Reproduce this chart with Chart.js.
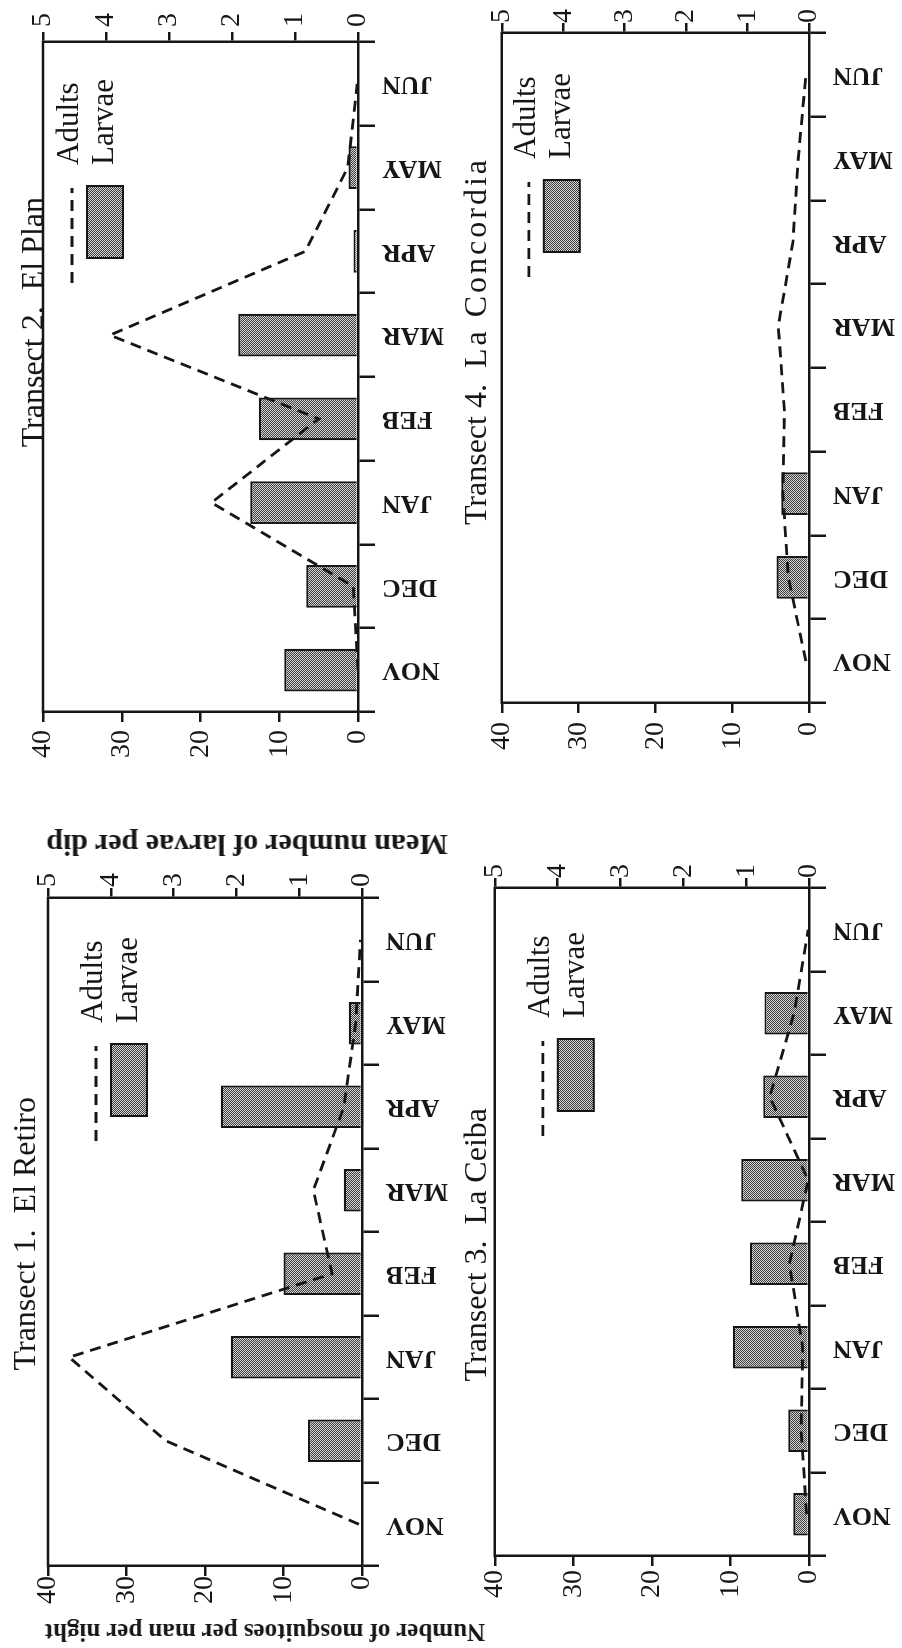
<!DOCTYPE html>
<html lang="en">
<head>
<meta charset="UTF-8">
<meta name="viewport" content="width=device-width, initial-scale=1.0">
<title>Adults and larvae by transect</title>
<script src="https://cdn.jsdelivr.net/npm/chart.js"></script>
<style>
    body {
        margin: 0;
        background: #fff;
        overflow: hidden;
    }

    /* the figure is laid out landscape and turned a quarter turn to fit the page */
    #page {
        position: absolute;
        left: 0;
        top: 0;
        width: 1648px;
        height: 902px;
        transform-origin: 0 0;
        transform: translate(0, 1648px) rotate(-90deg);
        font-family: "Liberation Serif", "Times New Roman", serif;
        color: #161616;
    }

    canvas {
        position: absolute;
    }

    .title {
        position: absolute;
        width: 600px;
        text-align: right;
        white-space: pre;
        font-size: 32px;
        line-height: 32px;
    }

    .wide {
        letter-spacing: 3px;
    }

    .axis-title {
        position: absolute;
        white-space: nowrap;
        font-weight: bold;
        line-height: 30px;
        transform: translate(-50%, -50%) rotate(-90deg);
    }
</style>
</head>
<body>
<div id="page">
    <canvas id="c1"></canvas>
    <canvas id="c2"></canvas>
    <canvas id="c3"></canvas>
    <canvas id="c4"></canvas>

    <div class="title" style="left:-49px; top:8px">Transect 1.  El Retiro</div>
    <div class="title" style="left:851px; top:16px">Transect 2.  El Plan</div>
    <div class="title" style="left:-60px; top:459px">Transect 3.  La Ceiba</div>
    <div class="title" style="left:891px; top:459px">Transect 4.  <span class="wide">La Concordia</span></div>

    <div class="axis-title" style="left:16px; top:265px; font-size:25px">Number of mosquitoes per man per night</div>
    <div class="axis-title" style="left:803px; top:247px; font-size:30px">Mean number of larvae per dip</div>
</div>

<script>
    const months = ['NOV', 'DEC', 'JAN', 'FEB', 'MAR', 'APR', 'MAY', 'JUN'];

    // Transect 1. El Retiro
    const retiroAdults = [0.4, 25.0, 37.3, 3.8, 6.2, 2.3, 0.8, 0.2];
    const retiroLarvae = [0.02, 0.86, 2.09, 1.25, 0.29, 2.25, 0.21, 0];

    // Transect 2. El Plan
    const planAdults = [0, 0.6, 18.6, 5.0, 31.5, 6.7, 1.3, 0.1];
    const planLarvae = [1.17, 0.82, 1.71, 1.57, 1.90, 0.07, 0.15, 0];

    // Transect 3. La Ceiba
    const ceibaAdults = [0.3, 1.0, 0.8, 2.5, 0.1, 5.0, 1.9, 0.1];
    const ceibaLarvae = [0.25, 0.33, 1.21, 0.94, 1.08, 0.73, 0.71, 0];

    // Transect 4. La Concordia
    const concordiaAdults = [0.4, 2.7, 3.4, 3.2, 4.0, 2.1, 1.4, 0.4];
    const concordiaLarvae = [0, 0.53, 0.45, 0, 0, 0, 0, 0];

    const adultTicks = { min: 0, max: 40, step: 10 };
    const larvaTicks = { min: 0, max: 5, step: 1 };

    const INK = '#161616';
    const SERIF = '"Liberation Serif", "Times New Roman", serif';

    // fine two-tone dither used for the larvae bars
    function makeShade() {
        const tile = document.createElement('canvas');
        tile.width = 2;
        tile.height = 2;
        const g = tile.getContext('2d');
        g.fillStyle = '#d2d2d2';
        g.fillRect(0, 0, 2, 2);
        g.fillStyle = '#404040';
        g.fillRect(0, 0, 1, 1);
        g.fillRect(1, 1, 1, 1);
        return g.createPattern(tile, 'repeat');
    }
    const shade = makeShade();

    // closes the plot box along the top edge
    const frameTop = {
        id: 'frameTop',
        afterDraw(chart) {
            const { ctx, chartArea: a } = chart;
            ctx.save();
            ctx.strokeStyle = INK;
            ctx.lineWidth = 2.5;
            ctx.beginPath();
            ctx.moveTo(a.left - 1.25, a.top);
            ctx.lineTo(a.right + 1.25, a.top);
            ctx.stroke();
            ctx.restore();
        }
    };

    // small key inside the plot: dashed sample for the line, shaded swatch for the bars
    const panelKey = {
        id: 'panelKey',
        afterDraw(chart, args, opts) {
            const { ctx, chartArea: a } = chart;
            const [line, bars] = chart.data.datasets;
            const x0 = a.left + opts.x;
            const y0 = a.top + opts.y;
            ctx.save();
            ctx.strokeStyle = line.borderColor;
            ctx.lineWidth = line.borderWidth;
            ctx.setLineDash(line.borderDash);
            ctx.beginPath();
            ctx.moveTo(x0, y0 + 2);
            ctx.lineTo(x0 + 95, y0 + 2);
            ctx.stroke();

            ctx.setLineDash([]);
            ctx.fillStyle = bars.backgroundColor;
            ctx.fillRect(x0 + 25, y0 + 17, 72, 36);
            ctx.strokeStyle = bars.borderColor;
            ctx.lineWidth = 2;
            ctx.strokeRect(x0 + 25, y0 + 17, 72, 36);

            ctx.fillStyle = INK;
            ctx.font = '31px ' + SERIF;
            ctx.textBaseline = 'middle';
            ctx.fillText(line.label, x0 + 118, y0);
            ctx.fillText(bars.label, x0 + 118, y0 + 35);
            ctx.restore();
        }
    };

    function valueAxis(range, position, width, pad) {
        return {
            position: position,
            min: range.min,
            max: range.max,
            afterFit: s => { s.width = width; },
            ticks: {
                stepSize: range.step,
                padding: pad,
                color: INK,
                font: { family: SERIF, size: 28 }
            },
            grid: { drawOnChartArea: false, tickLength: 10, color: INK, lineWidth: 2.5 },
            border: { color: INK, width: 2.5 }
        };
    }

    function makePanel(p) {
        const [left, top, right, bottom] = p.plot;
        const canvas = document.getElementById(p.id);
        canvas.width = p.lw + (right - left) + p.rw;
        canvas.height = p.pt + (bottom - top) + p.xh;
        canvas.style.left = (left - p.lw) + 'px';
        canvas.style.top = (top - p.pt) + 'px';

        new Chart(canvas, {
            type: 'bar',
            data: {
                labels: months,
                datasets: [{
                    type: 'line',
                    label: 'Adults',
                    data: p.adults,
                    yAxisID: 'y',
                    borderColor: INK,
                    borderWidth: 2.8,
                    borderDash: [11, 7],
                    pointRadius: 0,
                    tension: 0,
                    fill: false,
                    order: 0
                }, {
                    type: 'bar',
                    label: 'Larvae',
                    data: p.larvae,
                    yAxisID: 'y1',
                    backgroundColor: shade,
                    borderColor: INK,
                    borderWidth: 2.2,
                    barPercentage: 0.51,
                    categoryPercentage: 1,
                    order: 1
                }]
            },
            options: {
                responsive: false,
                animation: false,
                devicePixelRatio: 1,
                layout: { padding: { top: p.pt, left: 0, right: 0, bottom: 0 } },
                plugins: {
                    legend: { display: false },
                    tooltip: { enabled: false },
                    panelKey: { x: p.key[0], y: p.key[1] }
                },
                scales: {
                    x: {
                        offset: true,
                        afterFit: s => { s.height = p.xh; },
                        ticks: {
                            autoSkip: false,
                            minRotation: 90,
                            maxRotation: 90,
                            padding: 7,
                            color: INK,
                            font: { family: SERIF, size: 26, weight: 'bold' }
                        },
                        grid: {
                            offset: true,
                            drawOnChartArea: false,
                            tickLength: 17,
                            color: INK,
                            lineWidth: 2.5
                        },
                        border: { color: INK, width: 2.5 }
                    },
                    y: valueAxis(adultTicks, 'left', p.lw, p.yPad),
                    y1: valueAxis(larvaTicks, 'right', p.rw, p.y1Pad)
                }
            },
            plugins: [frameTop, panelKey]
        });
    }

    makePanel({ id: 'c1', adults: retiroAdults, larvae: retiroLarvae,
        plot: [82, 48, 750, 362], lw: 50, rw: 45, pt: 48, xh: 110, yPad: 0, y1Pad: 1, key: [425, 46] });
    makePanel({ id: 'c2', adults: planAdults, larvae: planLarvae,
        plot: [936, 43, 1606, 358], lw: 80, rw: 42, pt: 43, xh: 110, yPad: 8, y1Pad: 5, key: [429, 27] });
    makePanel({ id: 'c3', adults: ceibaAdults, larvae: ceibaLarvae,
        plot: [92, 494, 760, 809], lw: 55, rw: 45, pt: 20, xh: 93, yPad: 4, y1Pad: 0, key: [420, 46] });
    makePanel({ id: 'c4', adults: concordiaAdults, larvae: concordiaLarvae,
        plot: [945, 496, 1615, 809], lw: 80, rw: 33, pt: 20, xh: 93, yPad: 9, y1Pad: 0, key: [426, 25] });
</script>
</body>
</html>
